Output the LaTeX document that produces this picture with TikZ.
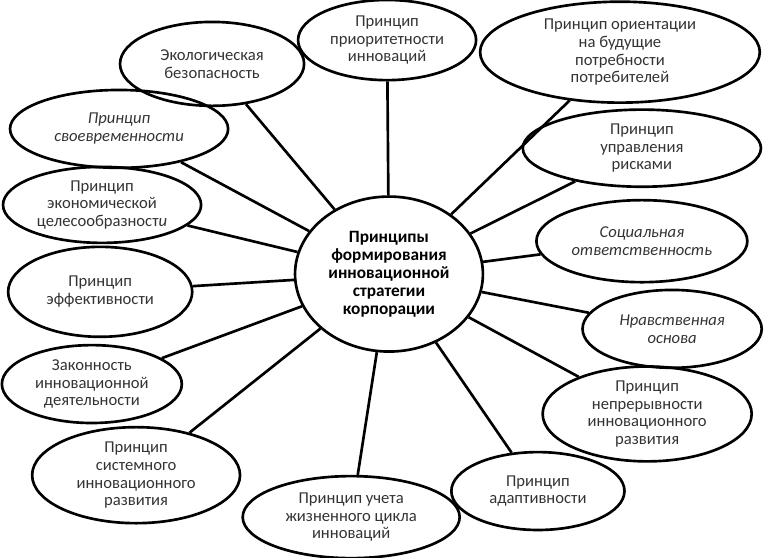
\documentclass[tikz,border=0pt]{standalone}
\usepackage{fontspec}
\setmainfont{Carlito}
\usetikzlibrary{shapes.geometric}

\begin{document}
\begin{tikzpicture}[font=\fontsize{12.5}{13.4}\selectfont,
  idea/.style={draw, ellipse, line width=2pt, align=center, inner sep=0pt, text=black!80},
  core/.style={draw, ellipse, line width=2pt, align=center, inner sep=0pt,
    font=\fontsize{13}{13.6}\selectfont\bfseries},
  link/.style={line width=2pt}]

\useasboundingbox (0,0) rectangle (20.29,-14.76);

% =================================================================================
% CENTRE
% =================================================================================
\node[core, minimum width=4.97cm, minimum height=4.10cm] (core) at (10.29,-7.25)
  {Принципы\\формирования\\инновационной\\стратегии\\корпорации};

% =================================================================================
% RING: clockwise from the top
% =================================================================================
\node[idea, minimum width=4.71cm, minimum height=2.12cm] (prio) at (10.24,-1.06)
  {Принцип\\приоритетности\\инноваций};
\node[idea, minimum width=7.40cm, minimum height=2.67cm] (orient) at (16.40,-1.38)
  {Принцип ориентации\\на будущие\\потребности\\потребителей};
\node[idea, minimum width=6.30cm, minimum height=2.04cm] (risk) at (16.98,-3.92)
  {Принцип\\управления\\рисками};
\node[idea, minimum width=5.58cm, minimum height=2.17cm] (social) at (16.98,-6.38)
  {\itshape Социальная\\\itshape ответственность};
\node[idea, minimum width=4.74cm, minimum height=2.06cm] (moral) at (17.78,-8.70)
  {\itshape Нравственная\\\itshape основа};
\node[idea, minimum width=5.53cm, minimum height=2.51cm] (contin) at (17.12,-10.95)
  {Принцип\\непрерывности\\инновационного\\развития};
\node[idea, minimum width=4.58cm, minimum height=2.06cm] (adapt) at (14.23,-12.99)
  {Принцип\\адаптивности};
\node[idea, minimum width=5.74cm, minimum height=2.17cm] (cycle) at (9.29,-13.68)
  {Принцип учета\\жизненного цикла\\инноваций};
\node[idea, minimum width=5.50cm, minimum height=2.54cm] (system) at (3.60,-12.57)
  {Принцип\\системного\\инновационного\\развития};
\node[idea, minimum width=4.76cm, minimum height=2.06cm] (legal) at (2.43,-10.16)
  {Законность\\инновационной\\деятельности};
\node[idea, minimum width=4.87cm, minimum height=2.38cm] (effic) at (2.65,-7.72)
  {Принцип\\эффективности};
\node[idea, minimum width=5.24cm, minimum height=2.01cm] (econ) at (2.70,-5.42)
  {Принцип\\экономической\\целесообразност\textit{и}};
\node[idea, minimum width=5.77cm, minimum height=2.06cm] (timely) at (3.15,-3.41)
  {\itshape Принцип\\\itshape своевременности};
\node[idea, minimum width=4.87cm, minimum height=2.22cm] (ecol) at (5.61,-1.69)
  {Экологическая\\безопасность};

% spokes
\foreach \n in {prio, orient, risk, social, moral, contin, adapt,
                cycle, system, legal, effic, econ, timely, ecol}
  \draw[link] (core) -- (\n);

\end{tikzpicture}
\end{document}
